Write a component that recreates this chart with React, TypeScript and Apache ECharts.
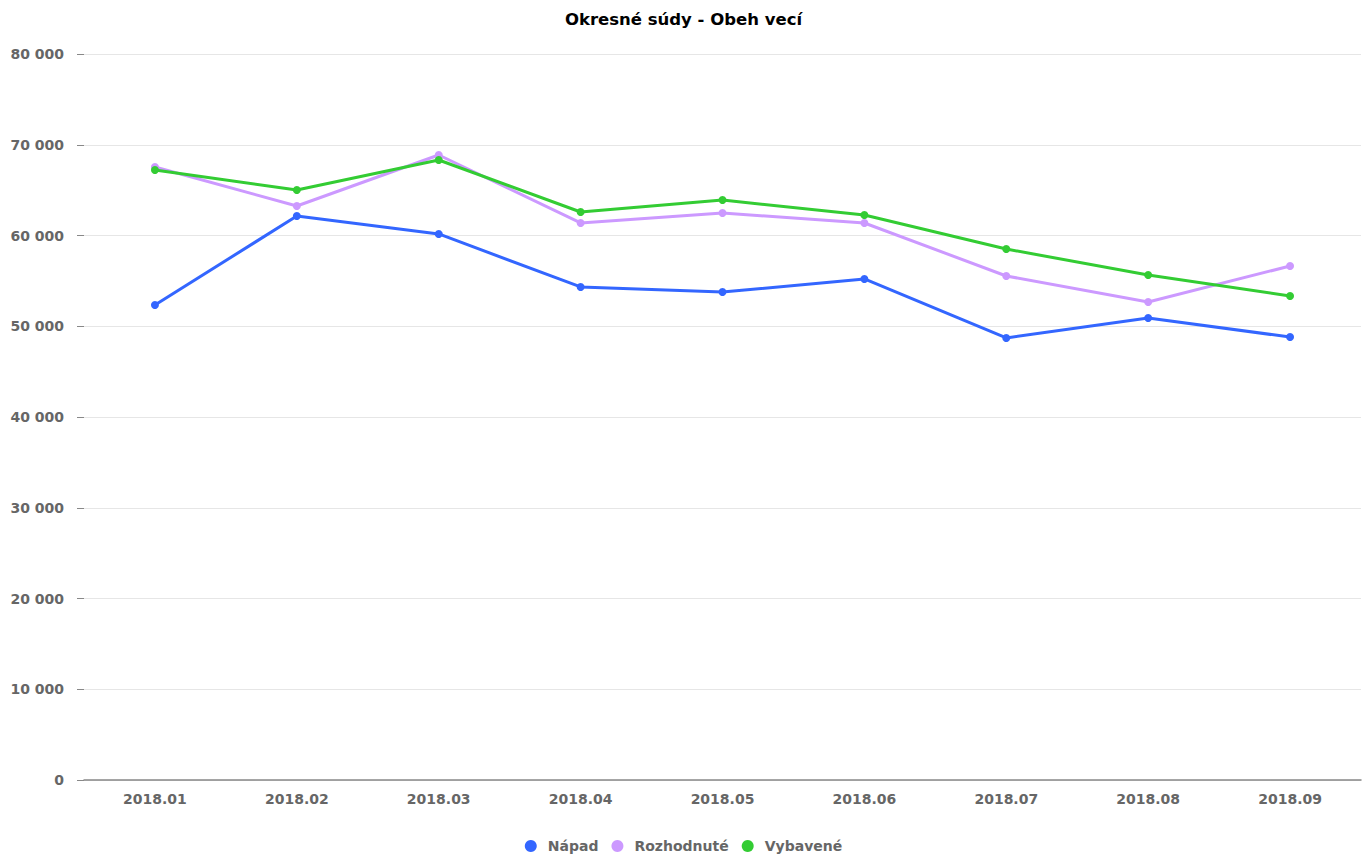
import React, { useEffect, useRef } from "react";
import * as echarts from "echarts";

const categories = ["2018.01", "2018.02", "2018.03", "2018.04", "2018.05", "2018.06", "2018.07", "2018.08", "2018.09"];
const napad = [52340, 62150, 60170, 54330, 53770, 55210, 48710, 50910, 48810];
const rozhodnute = [67550, 63250, 68870, 61380, 62480, 61380, 55540, 52670, 56640];
const vybavene = [67220, 65010, 68320, 62590, 63910, 62260, 58510, 55650, 53330];
const seriesNames = ["Nápad", "Rozhodnuté", "Vybavené"];
const colors = ["#3366ff", "#cc99ff", "#33cc33"];

const fmt = (v: number) => String(v).replace(/\B(?=(\d{3})+(?!\d))/g, " ");

export default function App() {
  const ref = useRef<HTMLDivElement>(null);
  useEffect(() => {
    if (!ref.current) return;
    const chart = echarts.init(ref.current, null, { renderer: "svg" });
    const font = "DejaVu Sans";
    const dataSets = [napad, rozhodnute, vybavene];
    chart.setOption({
      animation: false,
      backgroundColor: "#ffffff",
      textStyle: { fontFamily: font },
      title: {
        text: "Okresné súdy - Obeh vecí",
        left: "center",
        top: 6,
        textStyle: { fontFamily: font, fontSize: 16.5, fontWeight: "bold", color: "#000" },
      },
      legend: {
        bottom: 2,
        left: "center",
        icon: "circle",
        itemWidth: 24,
        itemHeight: 12,
        itemGap: 13,
        textStyle: { fontFamily: font, fontSize: 14, fontWeight: "bold", color: "#666" },
        data: seriesNames,
      },
      grid: { left: 84, right: 6, top: 54, bottom: 80, containLabel: false },
      xAxis: {
        type: "category",
        data: categories,
        boundaryGap: true,
        axisLine: { lineStyle: { color: "#888", width: 1.5 } },
        axisTick: { alignWithLabel: true, length: 6, lineStyle: { color: "#888" } },
        axisLabel: { fontFamily: font, fontSize: 14, fontWeight: "bold", color: "#666", margin: 12 },
      },
      yAxis: {
        type: "value",
        min: 0,
        max: 80000,
        interval: 10000,
        axisLine: { show: false },
        axisTick: { show: true, length: 7, lineStyle: { color: "#888" } },
        axisLabel: { fontFamily: font, fontSize: 14, fontWeight: "bold", color: "#666", margin: 20, formatter: fmt },
        splitLine: { lineStyle: { color: "#e6e6e6", width: 1 } },
      },
      series: seriesNames.map((name, i) => ({
        name,
        type: "line",
        data: dataSets[i],
        color: colors[i],
        symbol: "circle",
        symbolSize: 8,
        lineStyle: { width: 3, color: colors[i] },
        itemStyle: { color: colors[i] },
      })),
    });
    return () => chart.dispose();
  }, []);
  return <div ref={ref} style={{ position: "absolute", left: 0, top: 0, width: 1367, height: 860 }} />;
}
